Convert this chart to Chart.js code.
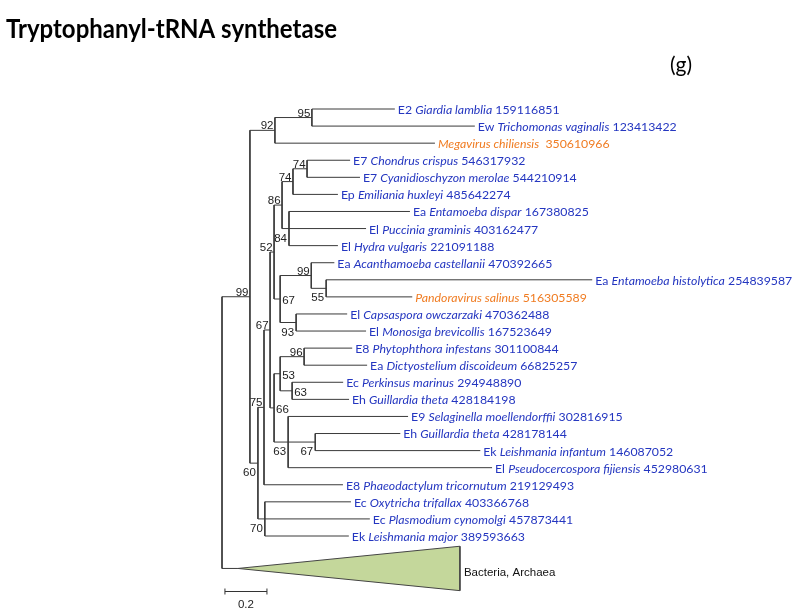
<!DOCTYPE html>
<html>
<head>
<meta charset="utf-8">
<script src="https://cdn.jsdelivr.net/npm/chart.js@4.4.0/dist/chart.umd.min.js"></script>
<style>
  body { margin: 0; background: #fff; }
  #wrap { width: 800px; height: 613px; position: relative; }
</style>
</head>
<body>
<div id="wrap"><canvas id="tree"></canvas></div>
<script>
// leaves, top to bottom
const tipCodes = ['E2', 'Ew', '', 'E7', 'E7', 'Ep', 'Ea', 'El', 'El', 'Ea', 'Ea', '', 'El', 'El',
    'E8', 'Ea', 'Ec', 'Eh', 'E9', 'Eh', 'Ek', 'El', 'E8', 'Ec', 'Ec', 'Ek']
const tipSpecies = ['Giardia lamblia', 'Trichomonas vaginalis', 'Megavirus chiliensis', 'Chondrus crispus',
    'Cyanidioschyzon merolae', 'Emiliania huxleyi', 'Entamoeba dispar', 'Puccinia graminis', 'Hydra vulgaris',
    'Acanthamoeba castellanii', 'Entamoeba histolytica', 'Pandoravirus salinus', 'Capsaspora owczarzaki',
    'Monosiga brevicollis', 'Phytophthora infestans', 'Dictyostelium discoideum', 'Perkinsus marinus',
    'Guillardia theta', 'Selaginella moellendorffii', 'Guillardia theta', 'Leishmania infantum',
    'Pseudocercospora fijiensis', 'Phaeodactylum tricornutum', 'Oxytricha trifallax', 'Plasmodium cynomolgi',
    'Leishmania major']
const tipIds = ['159116851', '123413422', '350610966', '546317932', '544210914', '485642274', '167380825',
    '403162477', '221091188', '470392665', '254839587', '516305589', '470362488', '167523649', '301100844',
    '66825257', '294948890', '428184198', '302816915', '428178144', '146087052', '452980631', '219129493',
    '403366768', '457873441', '389593663']
const tipKind = ['euk', 'euk', 'virus', 'euk', 'euk', 'euk', 'euk', 'euk', 'euk', 'euk', 'euk', 'virus', 'euk',
    'euk', 'euk', 'euk', 'euk', 'euk', 'euk', 'euk', 'euk', 'euk', 'euk', 'euk', 'euk', 'euk']
const tipParents = ['n95', 'n95', 'n92', 'n74a', 'n74a', 'n74b', 'n84', 'n84', 'n84', 'n99b', 'n55', 'n55',
    'n93', 'n93', 'n96', 'n96', 'n63a', 'n63a', 'n63', 'n67c', 'n67c', 'n63', 'n75', 'n70', 'n70', 'n70']
const tipLengths = [0.395, 0.776, 0.762, 0.205, 0.252, 0.214, 0.576, 0.367, 0.233, 0.110, 1.267, 0.410,
    0.243, 0.333, 0.229, 0.300, 0.243, 0.271, 0.571, 0.405, 0.786, 0.971, 0.376, 0.410, 0.500, 0.400]

// internal nodes
const nodeIds = ['root', 'n99', 'n92', 'n95', 'n60', 'n75', 'n67', 'n52', 'n86', 'n74b', 'n74a', 'n84',
    'n67b', 'n99b', 'n55', 'n93', 'n66', 'n53', 'n96', 'n63a', 'n63', 'n67c', 'n70']
const nodeParents = [null, 'root', 'n99', 'n92', 'n99', 'n60', 'n75', 'n67', 'n52', 'n86', 'n74b', 'n86',
    'n52', 'n67b', 'n99b', 'n67b', 'n67', 'n66', 'n53', 'n53', 'n66', 'n63', 'n60']
const nodeLengths = [0, 0.133, 0.119, 0.176, 0.038, 0.029, 0.029, 0.019, 0.038, 0.052, 0.067, 0.033,
    0.029, 0.148, 0.071, 0.076, 0.019, 0.029, 0.114, 0.057, 0.067, 0.129, 0.033]
const nodeSupport = ['', '99', '92', '95', '60', '75', '67', '52', '86', '74', '74', '84',
    '67', '99', '55', '93', '66', '53', '96', '63', '63', '67', '70']

// collapsed outgroup
const cladeName = 'Bacteria, Archaea'
const cladeLength = 0.076
const cladeSpan = 1.057
const cladeRows = [25.6, 28.2]

const scaleBarLength = 0.2

// where each support value sits next to its node
const labelBelow = ['n84', 'n55', 'n93', 'n63', 'n67c', 'n60', 'n70']
const labelRight = ['n67b', 'n53', 'n63a', 'n66']

// ---- layout from the topology ----
const depth = {}
function nodeDepth(id) {
    if (id in depth) return depth[id]
    const i = nodeIds.indexOf(id)
    depth[id] = nodeParents[i] ? nodeDepth(nodeParents[i]) + nodeLengths[i] : 0
    return depth[id]
}
nodeIds.forEach(nodeDepth)
const tipDepth = tipParents.map((p, i) => depth[p] + tipLengths[i])

const cladeRow = (cladeRows[0] + cladeRows[1]) / 2
const cladeDepth = depth.root + cladeLength

const children = {}
nodeIds.forEach(id => children[id] = [])
nodeIds.forEach((id, i) => { if (nodeParents[i]) children[nodeParents[i]].push({ kind: 'node', id }) })
tipParents.forEach((p, i) => children[p].push({ kind: 'tip', i }))
children.root.push({ kind: 'clade' })

const row = {}
function childRow(c) {
    if (c.kind === 'tip') return c.i
    if (c.kind === 'clade') return cladeRow
    return nodeRow(c.id)
}
function childDepth(c) {
    if (c.kind === 'tip') return tipDepth[c.i]
    if (c.kind === 'clade') return cladeDepth
    return depth[c.id]
}
function nodeRow(id) {
    if (id in row) return row[id]
    const rs = children[id].map(childRow)
    row[id] = (Math.min(...rs) + Math.max(...rs)) / 2
    return row[id]
}
nodeIds.forEach(nodeRow)

const branchPts = []
function seg(x1, y1, x2, y2) {
    branchPts.push({ x: x1, y: y1 }, { x: x2, y: y2 }, { x: x2, y: null })
}
nodeIds.forEach(id => {
    const rs = children[id].map(childRow)
    seg(depth[id], Math.min(...rs), depth[id], Math.max(...rs))
    children[id].forEach(c => seg(depth[id], childRow(c), childDepth(c), childRow(c)))
})

const trianglePts = [
    { x: cladeDepth, y: cladeRow },
    { x: cladeDepth + cladeSpan, y: cladeRows[0] },
    { x: cladeDepth + cladeSpan, y: cladeRows[1] },
    { x: cladeDepth, y: cladeRow }
]

const treeText = {
    id: 'treeText',
    afterDatasetsDraw(chart) {
        const { ctx, scales: { x, y } } = chart
        ctx.save()

        // title
        ctx.fillStyle = '#000'
        ctx.textAlign = 'left'
        ctx.textBaseline = 'alphabetic'
        ctx.font = 'bold 26px Lato'
        ctx.fillText('Tryptophanyl-tRNA synthetase', 6, 38, 331)
        ctx.font = '21px Lato'
        ctx.fillText('(g)', 670, 72)

        // leaf labels
        ctx.textBaseline = 'middle'
        tipSpecies.forEach((sp, i) => {
            let cx = x.getPixelForValue(tipDepth[i]) + 3
            const cy = y.getPixelForValue(i) + 1
            ctx.fillStyle = tipKind[i] === 'virus' ? '#f07c22' : '#2436c0'
            const parts = []
            if (tipCodes[i]) parts.push([tipCodes[i] + ' ', false])
            parts.push([sp, true])
            parts.push([(tipKind[i] === 'virus' && i === 2 ? '  ' : ' ') + tipIds[i], false])
            parts.forEach(([t, it]) => {
                ctx.font = (it ? 'italic ' : '') + '12.3px Lato'
                ctx.fillText(t, cx, cy)
                cx += ctx.measureText(t).width
            })
        })

        // support values
        ctx.fillStyle = '#222'
        ctx.font = '11.5px "Liberation Sans", Arial'
        ctx.textBaseline = 'alphabetic'
        nodeIds.forEach((id, i) => {
            if (!nodeSupport[i]) return
            const nx = x.getPixelForValue(depth[id])
            const ny = y.getPixelForValue(row[id])
            if (labelRight.includes(id)) {
                ctx.textAlign = 'left'
                ctx.fillText(nodeSupport[i], nx + 2, ny + 5)
            } else if (labelBelow.includes(id)) {
                ctx.textAlign = 'right'
                ctx.fillText(nodeSupport[i], nx - 2, ny + 13)
            } else {
                ctx.textAlign = 'right'
                ctx.fillText(nodeSupport[i], nx - 1.5, ny - 1)
            }
        })

        // collapsed clade name
        ctx.fillStyle = '#111'
        ctx.textAlign = 'left'
        ctx.textBaseline = 'middle'
        ctx.fillText(cladeName, x.getPixelForValue(cladeDepth + cladeSpan) + 4, y.getPixelForValue(cladeRow) + 4)

        // scale bar
        const sx0 = x.getPixelForValue(0.014)
        const sx1 = x.getPixelForValue(0.014 + scaleBarLength)
        const sy = Math.round(y.getPixelForValue(28.2)) + 0.5
        ctx.strokeStyle = '#333'
        ctx.lineWidth = 1
        ctx.beginPath()
        ctx.moveTo(sx0, sy); ctx.lineTo(sx1, sy)
        ctx.moveTo(sx0, sy - 3); ctx.lineTo(sx0, sy + 3)
        ctx.moveTo(sx1, sy - 3); ctx.lineTo(sx1, sy + 3)
        ctx.stroke()
        ctx.fillStyle = '#222'
        ctx.textAlign = 'center'
        ctx.textBaseline = 'alphabetic'
        ctx.fillText(String(scaleBarLength), (sx0 + sx1) / 2, sy + 16)

        ctx.restore()
    }
}

new Chart(document.getElementById('tree'), {
    type: 'line',
    data: {
        datasets: [
            {
                label: 'clade',
                data: trianglePts,
                borderColor: '#444',
                borderWidth: 1,
                backgroundColor: '#c4d79b',
                fill: 'shape',
                pointRadius: 0,
                tension: 0
            },
            {
                label: 'branches',
                data: branchPts,
                borderColor: '#3a3a3a',
                borderWidth: 1,
                pointRadius: 0,
                spanGaps: false,
                fill: false,
                tension: 0
            }
        ]
    },
    options: {
        responsive: true,
        maintainAspectRatio: false,
        animation: false,
        layout: { padding: 0, autoPadding: false },
        plugins: { legend: { display: false }, tooltip: { enabled: false }, title: { display: false } },
        scales: {
            x: { type: 'linear', display: false, min: -222 / 210, max: 578 / 210 },
            y: { type: 'linear', display: false, reverse: true, min: -109 / 17.08, max: 504 / 17.08 }
        }
    },
    plugins: [treeText]
})
</script>
</body>
</html>
